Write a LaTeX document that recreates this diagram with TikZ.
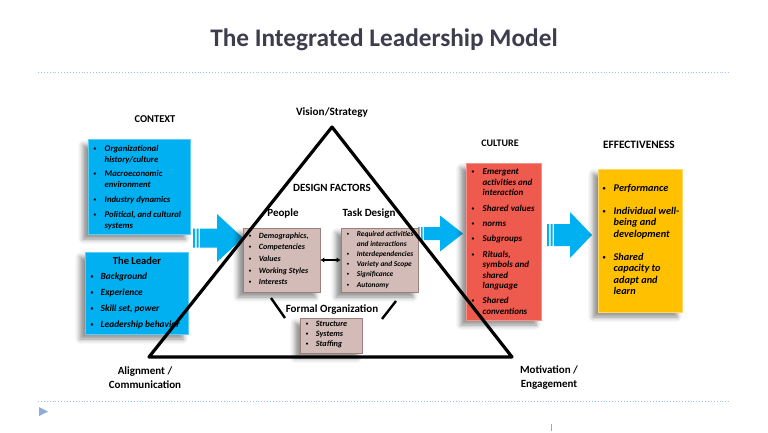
\documentclass[tikz,border=0pt]{standalone}
\usepackage{fontspec}
\setmainfont{Carlito}
\usetikzlibrary{shadows.blur,arrows.meta,calc}
\definecolor{ctxblue}{HTML}{00B0F0}
\definecolor{ctxborder}{HTML}{5CCBF5}
\definecolor{brownfill}{HTML}{D3BCB7}
\definecolor{browndraw}{HTML}{9C7F7A}
\definecolor{redfill}{HTML}{EF5A4E}
\definecolor{reddraw}{HTML}{F4928A}
\definecolor{yelfill}{HTML}{FFC000}
\definecolor{yeldraw}{HTML}{FFD966}
\definecolor{titlegray}{HTML}{3D3D4D}
\definecolor{dotblue}{HTML}{9DC3E6}
\definecolor{markblue}{HTML}{8FAADC}
\newcommand{\bu}{\raisebox{0.25ex}{\scalebox{0.6}{\textbullet}}}
\begin{document}
\begin{tikzpicture}[x=1pt,y=-1pt,
  shd/.style={blur shadow={shadow xshift=-5pt,shadow yshift=-5pt,shadow blur radius=5pt,shadow opacity=45}},
  cbox/.style={shd, rectangle, inner sep=0pt, line width=1pt},
  lst/.style={anchor=north west, inner sep=0pt, align=left},
  lbl/.style={inner sep=0pt, align=center, text=black},
  barrow/.style={fill=ctxblue},
  link/.style={line width=2.4pt, black}
]
\useasboundingbox (0,0) rectangle (768,433);

% title and rules
\node[lbl, text=titlegray, font=\fontsize{25.3}{28}\selectfont\bfseries] (title) at (384,40) {The Integrated Leadership Model};
\draw[dotblue, dotted, line width=0.9pt] (38,72) -- (730,72);
\draw[dotblue, dotted, line width=0.9pt] (38,401) -- (730,401);
\fill[markblue] (39,407) -- (48,411.5) -- (39,416) -- cycle;
\draw[gray!70, line width=0.6pt] (551,424) -- (551,431);

% headings
\node[lbl, font=\fontsize{10.5}{12}\selectfont\bfseries] (hctx) at (155,119) {CONTEXT};
\node[lbl, font=\fontsize{11.2}{12}\selectfont\bfseries] (hvis) at (332,113) {Vision/Strategy};
\node[lbl, font=\fontsize{10}{12}\selectfont\bfseries] (hcul) at (500,143) {CULTURE};
\node[lbl, font=\fontsize{11.3}{12}\selectfont\bfseries] (heff) at (639,145) {EFFECTIVENESS};

% context box
\node[cbox, fill=ctxblue, draw=ctxborder, minimum width=102pt, minimum height=94pt] (ctx) at (139,187) {};
\node[lst, font=\fontsize{8.7}{10.8}\selectfont\bfseries\itshape] (ctxt) at ($(ctx.north west)+(6,4)$) {%
\begin{tabular}{@{}p{11pt}@{}l@{}}
\bu & Organizational\\
 & history/culture\\[4pt]
\bu & Macroeconomic\\
 & environment\\[4pt]
\bu & Industry dynamics\\[4pt]
\bu & Political, and cultural\\
 & systems
\end{tabular}};

% leader box
\node[cbox, fill=ctxblue, draw=ctxborder, minimum width=103pt, minimum height=82pt] (lead) at (136.5,293) {};
\node[lbl, font=\fontsize{10.5}{12}\selectfont\bfseries] (leadt) at (137,261) {The Leader};
\node[lst, font=\fontsize{9.4}{16}\selectfont\bfseries\itshape] (leadl) at ($(lead.north west)+(6,17)$) {%
\begin{tabular}{@{}p{10pt}@{}l@{}}
\bu & Background\\
\bu & Experience\\
\bu & Skill set, power\\
\bu & Leadership behavior
\end{tabular}};

% block arrows
\fill[barrow] (193,228.5) rectangle (195,247.5) (196.5,228.5) rectangle (198.5,247.5);
\fill[barrow] (200,228.5) -- (217,228.5) -- (217,214) -- (243,238) -- (217,262) -- (217,247.5) -- (200,247.5) -- cycle;
\fill[barrow] (418,227) rectangle (419.5,240) (421,227) rectangle (422.5,240);
\fill[barrow] (424,227) -- (440,227) -- (440,215.5) -- (463,233.5) -- (440,251.5) -- (440,240) -- (424,240) -- cycle;
\fill[barrow] (547,224) rectangle (549,246) (550.5,224) rectangle (552.5,246);
\fill[barrow] (554,224) -- (570,224) -- (570,212) -- (592,235) -- (570,258) -- (570,246) -- (554,246) -- cycle;

% culture box
\node[cbox, fill=redfill, draw=reddraw, minimum width=75pt, minimum height=157pt] (cul) at (503.5,241.5) {};
\node[lst, font=\fontsize{9}{10.4}\selectfont\bfseries\itshape] (cult) at ($(cul.north west)+(6,5)$) {%
\begin{tabular}{@{}p{11pt}@{}l@{}}
\bu & Emergent\\
 & activities and\\
 & interaction\\[5pt]
\bu & Shared values\\[5pt]
\bu & norms\\[5pt]
\bu & Subgroups\\[5pt]
\bu & Rituals,\\
 & symbols and\\
 & shared\\
 & language\\[5pt]
\bu & Shared\\
 & conventions
\end{tabular}};

% effectiveness box
\node[cbox, fill=yelfill, draw=yeldraw, minimum width=84pt, minimum height=143pt] (eff) at (640,240.5) {};
\node[lst, font=\fontsize{10.3}{11.5}\selectfont\bfseries\itshape] (efft) at ($(eff.north west)+(5,14.5)$) {%
\begin{tabular}{@{}p{11pt}@{}l@{}}
\bu & Performance\\[11.5pt]
\bu & Individual well-\\
 & being and\\
 & development\\[11.5pt]
\bu & Shared\\
 & capacity to\\
 & adapt and\\
 & learn
\end{tabular}};

% design factors
\node[lbl, font=\fontsize{11}{12}\selectfont\bfseries] (hdf) at (332,188) {DESIGN FACTORS};
\node[lbl, font=\fontsize{11}{12}\selectfont\bfseries] (hpeo) at (283,214) {People};
\node[lbl, font=\fontsize{11}{12}\selectfont\bfseries] (htask) at (369,214) {Task Design};
\node[lbl, font=\fontsize{11}{12}\selectfont\bfseries] (hform) at (332,310) {Formal Organization};

\node[cbox, fill=brownfill, draw=browndraw, line width=0.6pt, minimum width=77pt, minimum height=64pt] (peo) at (281.5,260) {};
\node[lst, font=\fontsize{8}{11.7}\selectfont\bfseries\itshape] (peot) at ($(peo.north west)+(6,2)$) {%
\begin{tabular}{@{}p{10pt}@{}l@{}}
\bu & Demographics,\\
\bu & Competencies\\
\bu & Values\\
\bu & Working Styles\\
\bu & Interests
\end{tabular}};

\node[cbox, fill=brownfill, draw=browndraw, line width=0.6pt, minimum width=77pt, minimum height=64pt] (task) at (379.5,260) {};
\node[lst, font=\fontsize{7.4}{10.2}\selectfont\bfseries\itshape] (taskt) at ($(task.north west)+(6,1)$) {%
\begin{tabular}{@{}p{10pt}@{}l@{}}
\bu & Required activities\\
 & and interactions\\
\bu & Interdependencies\\
\bu & Variety and Scope\\
\bu & Significance\\
\bu & Autonomy
\end{tabular}};

\node[cbox, fill=brownfill, draw=browndraw, line width=0.6pt, minimum width=62pt, minimum height=35pt] (form) at (331,335.5) {};
\node[lst, font=\fontsize{8.2}{10}\selectfont\bfseries\itshape] (formt) at ($(form.north west)+(6,2)$) {%
\begin{tabular}{@{}p{10pt}@{}l@{}}
\bu & Structure\\
\bu & Systems\\
\bu & Staffing
\end{tabular}};

% connectors inside triangle
\draw[link, line width=2pt, {Latex[length=4pt,width=5pt]}-{Latex[length=4pt,width=5pt]}] (peo.east) -- (task.west);
\coordinate (pl1) at (271,298); \coordinate (pl2) at (285,318);
\coordinate (pr1) at (396,301); \coordinate (pr2) at (382,319);
\draw[link] (pl1) -- (pl2);
\draw[link] (pr1) -- (pr2);

% the triangle
\draw[line width=3.2pt, line join=round, black] (332,127) -- (512,357) -- (149,357) -- cycle;

% bottom labels
\node[lbl, font=\fontsize{11}{14}\selectfont\bfseries] (align) at (145,378) {Alignment /\\Communication};
\node[lbl, font=\fontsize{11}{14}\selectfont\bfseries] (motiv) at (549,378) {Motivation /\\Engagement};
\end{tikzpicture}
\end{document}
